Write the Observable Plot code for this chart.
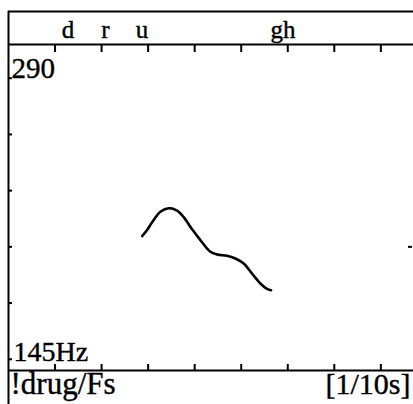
<!DOCTYPE html>
<html>
<head>
<meta charset="utf-8">
<script src="https://cdn.jsdelivr.net/npm/d3@7"></script>
<script src="https://cdn.jsdelivr.net/npm/@observablehq/plot@0.6"></script>
<style>
  html, body { margin: 0; padding: 0; background: #fff; }
  #chart svg { display: block; }
</style>
</head>
<body>
<div id="chart"></div>
<script>
// Time axis in units of 1/10 s, pitch in Hz
const timeTicks = [1, 2, 3, 4, 5, 6, 7, 8];
const hzTicks = [150, 175, 200, 225, 250, 275];
const refHz = [200];
const phonemes = ["d", "r", "u", "gh"];
const phonemeTimes = [1.28, 2.08, 2.87, 5.9];
const curveTime = [2.871, 2.978, 3.086, 3.264, 3.442, 3.623, 3.764, 3.945, 4.123, 4.338, 4.481, 4.696, 4.874, 5.053, 5.233, 5.411, 5.555, 5.641];
const curveHz   = [204.8, 207.5, 210.9, 215.6, 217.2, 216.1, 213.2, 207.8, 203.0, 197.8, 196.6, 196.0, 194.8, 192.6, 188.1, 183.7, 181.3, 180.7];
const topLabel = "290";
const bottomLabel = "145Hz";
const fileLabel = "!drug/Fs";
const unitLabel = "[1/10s]";
const xDomain = [0, 8.68];
const yDomain = [145, 290];

const serif = "'Liberation Serif', 'Times New Roman', Times, serif";
const curve = curveTime.map((t, i) => ({t, hz: curveHz[i]}));
const ph = phonemes.map((p, i) => ({p, t: phonemeTimes[i]}));
const ink = {fill: "black", stroke: "black", strokeWidth: 0.4, fontFamily: serif};

const chart = Plot.plot({
  width: 413,
  height: 404,
  marginLeft: 8,
  marginRight: 1,
  marginTop: 44,
  marginBottom: 34,
  x: {domain: xDomain, axis: null},
  y: {domain: yDomain, axis: null},
  style: {background: "white", fontFamily: serif, color: "black"},
  marks: [
    // outer frame: left edge and top edge
    Plot.ruleX([xDomain[0]], {insetTop: -33, insetBottom: -34, strokeWidth: 2, stroke: "black"}),
    Plot.ruleY([yDomain[1]], {dy: -33, insetRight: -1, strokeWidth: 2, stroke: "black"}),
    // plot area top & bottom edges
    Plot.ruleY([yDomain[1]], {insetRight: -1, strokeWidth: 2, stroke: "black"}),
    Plot.ruleY([yDomain[0]], {insetRight: -1, strokeWidth: 2, stroke: "black"}),
    // time ticks (top, pointing down; bottom, pointing up)
    Plot.ruleX(timeTicks, {y1: yDomain[1], y2: yDomain[1], insetBottom: -8, strokeWidth: 2, stroke: "black"}),
    Plot.ruleX(timeTicks, {y1: yDomain[0], y2: yDomain[0], insetTop: -6, strokeWidth: 2, stroke: "black"}),
    // Hz ticks on left, reference tick on right
    Plot.ruleY(hzTicks, {x1: xDomain[0], x2: xDomain[0], insetRight: -4, strokeWidth: 2, stroke: "black"}),
    Plot.ruleY(refHz, {x1: xDomain[1], x2: xDomain[1], insetLeft: -4, strokeWidth: 2, stroke: "black"}),
    // pitch contour
    Plot.line(curve, {x: "t", y: "hz", curve: "catmull-rom", stroke: "black", strokeWidth: 2.6}),
    // phoneme labels
    Plot.text(ph, {x: "t", text: "p", frameAnchor: "top", lineAnchor: "bottom", dy: -7, fontSize: 25, ...ink}),
    // Hz range labels
    Plot.text([topLabel], {text: d => d, frameAnchor: "top-left", textAnchor: "start", lineAnchor: "bottom", dx: 3, dy: 33, fontSize: 29, ...ink}),
    Plot.text([bottomLabel], {text: d => d, frameAnchor: "bottom-left", textAnchor: "start", lineAnchor: "bottom", dx: 5, dy: -10, fontSize: 28, ...ink}),
    // footer labels
    Plot.text([fileLabel], {text: d => d, frameAnchor: "bottom-left", textAnchor: "start", lineAnchor: "bottom", dx: 2, dy: 23, fontSize: 31, ...ink}),
    Plot.text([unitLabel], {text: d => d, frameAnchor: "bottom-right", textAnchor: "end", lineAnchor: "bottom", dx: -2, dy: 23, fontSize: 30, ...ink})
  ]
});
document.getElementById("chart").appendChild(chart);
</script>
</body>
</html>
